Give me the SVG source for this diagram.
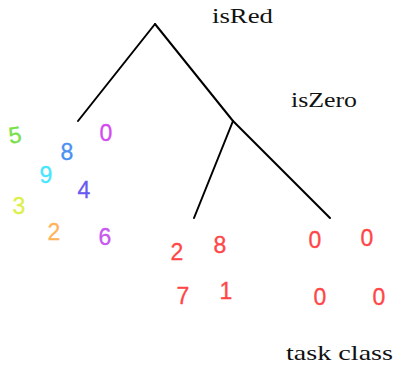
<svg xmlns="http://www.w3.org/2000/svg" width="394" height="367" viewBox="0 0 394 367">
<style>
.lbl{font-family:"Liberation Serif","DejaVu Serif",serif;font-size:22px;fill:#111}
.d{font-family:"Liberation Sans","DejaVu Sans",sans-serif;font-size:23px;text-anchor:middle;dominant-baseline:central;stroke-width:0.3}
.r{fill:#ff4646;stroke:#ff4646}
.edge{stroke:#000;stroke-width:2;fill:none;stroke-linecap:round}
</style>
<rect width="394" height="367" fill="#fff"/>
<g id="connectors">
<path class="edge" d="M155,24 L78,121"/>
<path class="edge" d="M155,24 L233,121"/>
<path class="edge" d="M233,121 L194,218"/>
<path class="edge" d="M233,121 L330,218"/>
</g>
<g id="node-isRed"><text class="lbl" x="212" y="23" textLength="61" lengthAdjust="spacingAndGlyphs">isRed</text></g>
<g id="node-isZero"><text class="lbl" x="291" y="107" textLength="66" lengthAdjust="spacingAndGlyphs">isZero</text></g>
<g id="leaf-left">
<text class="d" x="15" y="135" fill="#77e04a" stroke="#77e04a" transform="rotate(-8 15 135)">5</text>
<text class="d" x="106" y="133" fill="#d448f2" stroke="#d448f2">0</text>
<text class="d" x="67" y="152" fill="#4a90f2" stroke="#4a90f2">8</text>
<text class="d" x="46" y="175" fill="#46e6ff" stroke="#46e6ff">9</text>
<text class="d" x="84" y="190" fill="#6a58f0" stroke="#6a58f0">4</text>
<text class="d" x="19" y="206" fill="#dcf04a" stroke="#dcf04a">3</text>
<text class="d" x="54" y="232" fill="#ffb45a" stroke="#ffb45a">2</text>
<text class="d" x="105" y="237" fill="#c858f0" stroke="#c858f0">6</text>
</g>
<g id="leaf-middle">
<text class="d r" x="177" y="252">2</text>
<text class="d r" x="220" y="245">8</text>
<text class="d r" x="183" y="296">7</text>
<text class="d r" x="226" y="291">1</text>
</g>
<g id="leaf-right">
<text class="d r" x="315" y="240">0</text>
<text class="d r" x="367" y="238">0</text>
<text class="d r" x="320" y="297">0</text>
<text class="d r" x="379" y="297">0</text>
</g>
<g id="label-task-class"><text class="lbl" x="286" y="360" textLength="107" lengthAdjust="spacingAndGlyphs">task class</text></g>
</svg>
